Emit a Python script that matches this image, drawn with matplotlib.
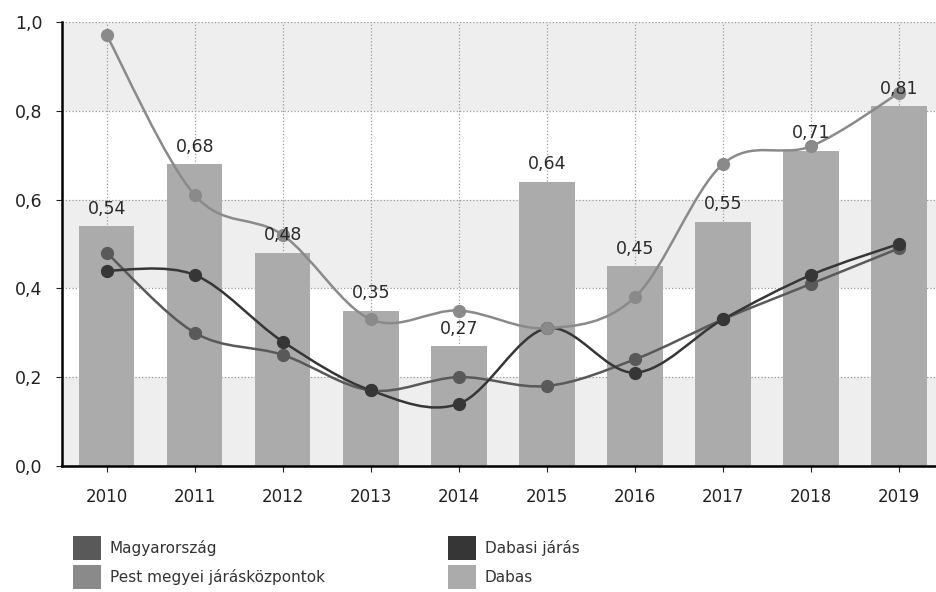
import numpy as np
import matplotlib
matplotlib.use("Agg")
import matplotlib.pyplot as plt
from matplotlib.path import Path
from matplotlib.patches import PathPatch, Rectangle

years = ["2010", "2011", "2012", "2013", "2014", "2015", "2016", "2017", "2018", "2019"]
dabas = [0.54, 0.68, 0.48, 0.35, 0.27, 0.64, 0.45, 0.55, 0.71, 0.81]
pest = [0.97, 0.61, 0.52, 0.33, 0.35, 0.31, 0.38, 0.68, 0.72, 0.84]
magyar = [0.48, 0.30, 0.25, 0.17, 0.20, 0.18, 0.24, 0.33, 0.41, 0.49]
dabasi_jaras = [0.44, 0.43, 0.28, 0.17, 0.14, 0.31, 0.21, 0.33, 0.43, 0.50]

c_bar = "#ababab"
c_pest = "#8a8a8a"
c_magyar = "#595959"
c_jaras = "#363636"


def spline_patch(x, y, color):
    # catmull-rom through the points, drawn as cubic bezier segments
    pts = np.column_stack([x, y]).astype(float)
    n = len(pts)
    verts = [pts[0]]
    codes = [Path.MOVETO]
    for i in range(n - 1):
        p0 = pts[i - 1] if i > 0 else pts[i]
        p1 = pts[i]
        p2 = pts[i + 1]
        p3 = pts[i + 2] if i + 2 < n else pts[i + 1]
        c1 = p1 + (p2 - p0) / 6.0
        c2 = p2 - (p3 - p1) / 6.0
        verts += [c1, c2, p2]
        codes += [Path.CURVE4] * 3
    return PathPatch(Path(verts, codes), facecolor="none", edgecolor=color, lw=1.8, zorder=3)


fig = plt.figure(figsize=(9.36, 5.92), dpi=100)
ax = fig.add_axes([0.066, 0.213, 0.934, 0.750])

x = np.arange(len(years))

# alternating bands
for lo in [0.0, 0.4, 0.8]:
    ax.axhspan(lo, lo + 0.2, color="#eeeeee", zorder=0, lw=0)

ax.bar(x, dabas, width=0.63, color=c_bar, zorder=2)
for xi, v in zip(x, dabas):
    ax.annotate(("%.2f" % v).replace(".", ","), (xi, v), xytext=(0, 6),
                textcoords="offset points", ha="center", va="bottom",
                fontsize=12.5, color="#2a2a2a", zorder=5)

for series, col in [(magyar, c_magyar), (dabasi_jaras, c_jaras), (pest, c_pest)]:
    ax.add_patch(spline_patch(x, series, col))
    ax.plot(x, series, "o", ms=8.5, color=col, zorder=4)

ax.set_xlim(-0.51, 9.42)
ax.set_ylim(0, 1.0)
ax.set_xticks(x)
ax.set_xticklabels(years)
yt = [0.0, 0.2, 0.4, 0.6, 0.8, 1.0]
ax.set_yticks(yt)
ax.set_yticklabels([("%.1f" % v).replace(".", ",") for v in yt])
ax.tick_params(axis="x", labelsize=12, colors="#222222", length=4, pad=12)
ax.tick_params(axis="y", labelsize=12.5, colors="#222222", length=4, pad=10)
ax.grid(True, ls=":", color="#999999", lw=0.9, zorder=1)
ax.set_axisbelow(True)
for s in ["top", "right"]:
    ax.spines[s].set_visible(False)
ax.spines["left"].set_linewidth(1.8)
ax.spines["bottom"].set_linewidth(1.8)

# legend
sw, sh = 0.030, 0.042
items = [("Magyarország", c_magyar, 0.078, 0.0743),
         ("Pest megyei járásközpontok", c_pest, 0.078, 0.0253),
         ("Dabasi járás", c_jaras, 0.479, 0.0743),
         ("Dabas", c_bar, 0.479, 0.0253)]
for label, col, lx, cy in items:
    fig.patches.append(Rectangle((lx, cy - sh / 2), sw, sh, transform=fig.transFigure,
                                 facecolor=col, edgecolor="none"))
    fig.text(lx + sw + 0.009, cy, label, fontsize=11, va="center", color="#333333")

fig.savefig("out.png", dpi=100)
